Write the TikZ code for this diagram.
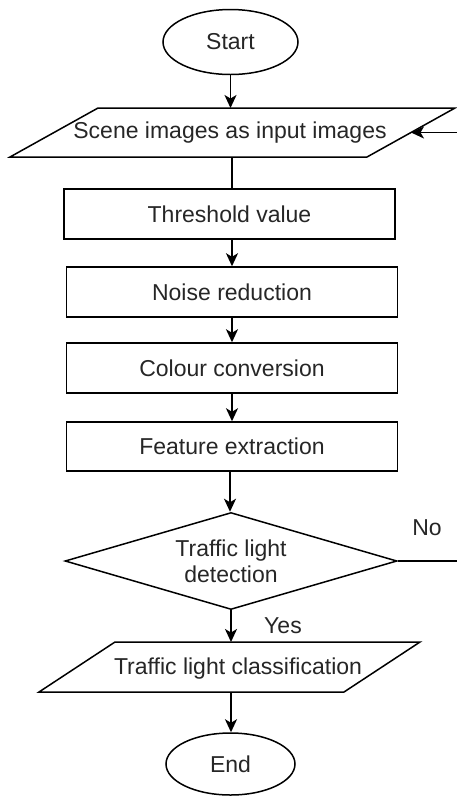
\documentclass[tikz,border=0pt]{standalone}
\usepackage{fontspec}
\setmainfont{Liberation Sans}
\usetikzlibrary{arrows.meta,shapes.geometric,calc}

\begin{document}
\begin{tikzpicture}[x=1pt,y=-1pt,
  every node/.style={font=\fontsize{23}{26}\selectfont, text=black!85},
  wire/.style={line width=1.5pt, draw=black},
  flow/.style={wire, -{Stealth[length=13pt,width=12pt,inset=3.5pt]}},
  procbox/.style={draw=black, line width=1.5pt, rectangle, minimum width=331pt,
    minimum height=50pt, inner sep=0pt},
  term/.style={draw=black, line width=1.5pt, ellipse, inner sep=0pt},
  decision/.style={draw=black, line width=1.5pt, diamond, inner sep=0pt, aspect=3.42,
    minimum width=332pt, minimum height=97pt, align=center},
  iobox/.style={rectangle, inner sep=0pt, outer sep=0pt}
]
\useasboundingbox (0,0) rectangle (457,796);

% terminals
\node[term, minimum width=135pt, minimum height=65pt] (start) at (230.5,42) {Start};
\node[term, minimum width=129pt, minimum height=62pt] (end) at (230.5,764) {End};

% input parallelogram (frame of the text, slanted outline drawn below)
\node[iobox, minimum width=445pt, minimum height=49pt] (in) at (232.5,132.5) {};
\node at (230,133) {Scene images as input images};
\draw[wire, line join=miter]
  ([xshift=88pt]in.north west) -- (in.north east) -- ([xshift=-88pt]in.south east)
  -- (in.south west) -- cycle;
\coordinate (inR) at ($(in.north east)!0.5!([xshift=-88pt]in.south east)$);

% processing steps
\node[procbox] (thr) at (229.5,214) {Threshold value};
\node[procbox] (noise) at (232,292) {Noise reduction};
\node[procbox] (col) at (232,368) {Colour conversion};
\node[procbox, minimum height=49pt] (feat) at (232,446.5) {Feature extraction};

% decision
\node[decision] (det) at (231,561) {Traffic light\\detection};

% output parallelogram
\node[iobox, minimum width=381pt, minimum height=50pt] (cls) at (229.5,667) {};
\node at (238,669) {Traffic light classification};
\draw[wire, line join=miter]
  ([xshift=76pt]cls.north west) -- (cls.north east) -- ([xshift=-76pt]cls.south east)
  -- (cls.south west) -- cycle;

% connectors
\draw[flow] (start.south) -- (start.south |- in.north);
\draw[wire] (232,157) coordinate (inB) -- (inB |- thr.north);
\draw[flow] (232,239) coordinate (thrB) -- (thrB |- noise.north);
\draw[flow] (noise.south) -- (noise.south |- col.north);
\draw[flow] (col.south) -- (col.south |- feat.north);
\draw[flow] (230,471) coordinate (featB) -- (featB |- det.north);
\draw[flow] (det.south) -- (det.south |- cls.north);
\draw[flow] (cls.south -| det.south) -- (det.south |- end.north);

% loop back when nothing is detected
\coordinate (loopA) at ($(det.east)+(234pt,0)$);
\draw[flow] (det.east) -- (loopA) |- (inR);

% branch labels
\node (no) at (427,528) {No};
\node (yes) at (283,626) {Yes};
\end{tikzpicture}
\end{document}
